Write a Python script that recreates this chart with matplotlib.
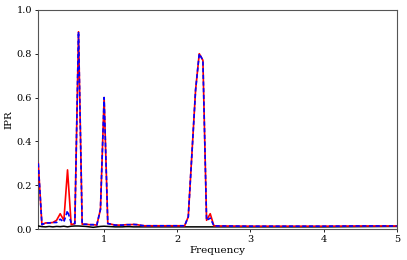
import numpy as np
import matplotlib
matplotlib.use('Agg')
import matplotlib.pyplot as plt

plt.rcParams['font.family'] = 'DejaVu Serif'

# frequency grid (dense where the peaks are, sparse on the flat tail)
freq = [0.10, 0.15, 0.20, 0.25, 0.30, 0.35, 0.40, 0.45, 0.50, 0.55,
        0.60, 0.65, 0.70, 0.75, 0.80, 0.85, 0.90, 0.95, 1.00, 1.05,
        1.10, 1.15, 1.20, 1.25, 1.30, 1.35, 1.40, 1.45, 1.50, 1.55,
        1.60, 1.70, 1.80, 1.90, 2.00, 2.10, 2.15, 2.20, 2.25, 2.30,
        2.35, 2.40, 2.45, 2.50, 2.55, 2.60, 3.00, 3.50, 4.00, 4.50, 5.00]

ipr_red = [0.30, 0.020, 0.028, 0.028, 0.030, 0.040, 0.070, 0.040, 0.270, 0.020,
           0.025, 0.900, 0.022, 0.022, 0.020, 0.020, 0.018, 0.090, 0.600, 0.025,
           0.022, 0.018, 0.018, 0.018, 0.020, 0.020, 0.021, 0.020, 0.017, 0.015,
           0.015, 0.015, 0.015, 0.015, 0.015, 0.015, 0.056, 0.345, 0.635, 0.800,
           0.770, 0.040, 0.070, 0.015, 0.014, 0.014, 0.013, 0.013, 0.013, 0.014, 0.014]

ipr_blue = [0.30, 0.020, 0.028, 0.028, 0.030, 0.030, 0.045, 0.032, 0.084, 0.028,
            0.025, 0.900, 0.022, 0.022, 0.020, 0.020, 0.018, 0.090, 0.600, 0.025,
            0.022, 0.018, 0.018, 0.018, 0.020, 0.020, 0.021, 0.020, 0.017, 0.015,
            0.015, 0.015, 0.015, 0.015, 0.015, 0.015, 0.056, 0.345, 0.635, 0.800,
            0.770, 0.040, 0.050, 0.015, 0.014, 0.014, 0.013, 0.013, 0.013, 0.014, 0.014]

ipr_black = [0.014, 0.011, 0.010, 0.012, 0.010, 0.012, 0.011, 0.013, 0.010, 0.013,
             0.014, 0.014, 0.013, 0.012, 0.010, 0.008, 0.010, 0.012, 0.013, 0.012,
             0.011, 0.010, 0.010, 0.010, 0.011, 0.011, 0.010, 0.010, 0.010, 0.010,
             0.010, 0.010, 0.010, 0.010, 0.010, 0.010, 0.010, 0.010, 0.010, 0.010,
             0.010, 0.010, 0.010, 0.010, 0.010, 0.010, 0.010, 0.010, 0.010, 0.011, 0.012]

fig = plt.figure(figsize=(4.07, 2.6), dpi=100)
ax = fig.add_axes([0.094, 0.119, 0.881, 0.843])

ax.plot(freq, ipr_black, color='black', lw=1.1, zorder=3)
ax.plot(freq, ipr_red, color='red', lw=1.2, zorder=3)
ax.plot(freq, ipr_blue, color='blue', lw=1.2, ls=(0, (2.5, 1.5)), zorder=3)

ax.set_xlim(0.1, 5)
ax.set_ylim(0, 1.0)
ax.set_xticks([1, 2, 3, 4, 5])
ax.set_yticks([0.0, 0.2, 0.4, 0.6, 0.8, 1.0])
ax.tick_params(labelsize=7, length=2.5, width=0.6, pad=2)
for s in ax.spines.values():
    s.set_color('#555555')
    s.set_linewidth(0.8)
ax.set_xlabel('Frequency', fontsize=7.5, labelpad=1)
ax.set_ylabel('IPR', fontsize=7.5, labelpad=2)

fig.savefig('out.png', dpi=100)
